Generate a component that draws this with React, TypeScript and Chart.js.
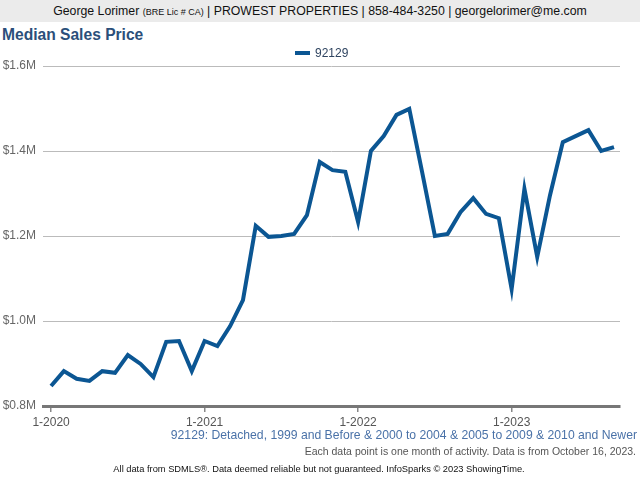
import React, { useEffect, useRef } from "react";
import { Chart, registerables } from "chart.js";

Chart.register(...registerables);

const months: string[] = [
  "1-2020","2-2020","3-2020","4-2020","5-2020","6-2020","7-2020","8-2020","9-2020","10-2020","11-2020","12-2020",
  "1-2021","2-2021","3-2021","4-2021","5-2021","6-2021","7-2021","8-2021","9-2021","10-2021","11-2021","12-2021",
  "1-2022","2-2022","3-2022","4-2022","5-2022","6-2022","7-2022","8-2022","9-2022","10-2022","11-2022","12-2022",
  "1-2023","2-2023","3-2023","4-2023","5-2023","6-2023","7-2023","8-2023","9-2023",
];

const medianPrice: number[] = [
  847000, 882000, 864000, 859000, 882000, 878000, 920000, 899000, 868000, 951000, 953000, 882000,
  953000, 941000, 988000, 1049000, 1224000, 1198000, 1200000, 1205000, 1249000, 1374000, 1355000, 1351000,
  1233000, 1400000, 1435000, 1485000, 1499000, 1351000, 1200000, 1205000, 1256000, 1289000, 1252000, 1242000,
  1075000, 1311000, 1151000, 1296000, 1421000, 1435000, 1449000, 1400000, 1409000,
];

const yTicks: number[] = [800000, 1000000, 1200000, 1400000, 1600000];
const seriesName = "92129";
const LINE = "#0b5693";
const FONT = "'Liberation Sans', Arial, sans-serif";

export default function App() {
  const ref = useRef<HTMLCanvasElement | null>(null);

  useEffect(() => {
    if (!ref.current) return;
    const chart = new Chart(ref.current, {
      type: "line",
      data: {
        datasets: [
          {
            label: seriesName,
            data: medianPrice.map((v, i) => ({ x: i, y: v })),
            borderColor: LINE,
            backgroundColor: LINE,
            borderWidth: 4,
            pointRadius: 0,
            tension: 0,
            borderJoinStyle: "miter",
          },
        ],
      },
      options: {
        animation: false,
        responsive: false,
        maintainAspectRatio: false,
        layout: { padding: { top: 66, right: 20, left: 0, bottom: 0 } },
        plugins: { legend: { display: false }, tooltip: { enabled: false }, title: { display: false } },
        scales: {
          x: {
            type: "linear",
            min: -0.63,
            max: 44.47,
            afterFit: (s: any) => { s.height = 74; },
            afterBuildTicks: (s: any) => {
              s.ticks = months.map((m, i) => ({ value: i, label: m })).filter((_, i) => i % 12 === 0);
            },
            ticks: {
              autoSkip: false,
              maxRotation: 0,
              padding: 3,
              color: "#555",
              font: { family: FONT, size: 12 },
              callback: (v: any) => months[Math.round(Number(v))] ?? "",
            },
            grid: { drawOnChartArea: false, drawTicks: true, tickLength: 6, color: "#888", lineWidth: 1.5 },
            border: { display: true, color: "#777", width: 3 },
          },
          y: {
            min: yTicks[0],
            max: yTicks[yTicks.length - 1],
            afterFit: (s: any) => { s.width = 43; },
            afterBuildTicks: (s: any) => { s.ticks = yTicks.map((v) => ({ value: v })); },
            ticks: {
              padding: 7,
              color: "#666",
              font: { family: FONT, size: 12 },
              callback: (v: any) => "$" + (Number(v) / 1000000).toFixed(1) + "M",
            },
            grid: { drawTicks: false, color: "#bbb", lineWidth: 1 },
            border: { display: false },
          },
        },
      },
    });
    return () => chart.destroy();
  }, []);

  return (
    <div style={{ position: "absolute", left: 0, top: 0, width: 640, height: 480, background: "#fff", fontFamily: FONT, overflow: "hidden" }}>
      <div style={{ position: "absolute", left: 0, top: 0, width: 640, height: 22, background: "#ebebeb" }} />
      <div style={{ position: "absolute", left: 0, top: 0, width: 640, height: 22, textAlign: "center", lineHeight: "22px", fontSize: 12.3, color: "#111", whiteSpace: "nowrap" }}>
        George Lorimer <span style={{ fontSize: 9 }}>(BRE Lic # CA)</span> | PROWEST PROPERTIES | 858-484-3250 | georgelorimer@me.com
      </div>
      <div style={{ position: "absolute", left: 2, top: 25, fontSize: 15.6, fontWeight: "bold", color: "#2b4f7a", lineHeight: "20px" }}>
        Median Sales Price
      </div>
      <canvas ref={ref} width={640} height={480} style={{ position: "absolute", left: 0, top: 0 }} />
      <div style={{ position: "absolute", left: 295, top: 51, width: 15, height: 4, background: LINE }} />
      <div style={{ position: "absolute", left: 315, top: 46, fontSize: 12, lineHeight: "14px", color: "#2f4460" }}>{seriesName}</div>
      <div style={{ position: "absolute", right: 3, top: 428, fontSize: 12.2, lineHeight: "15px", color: "#4a72a8", whiteSpace: "nowrap" }}>
        92129: Detached, 1999 and Before &amp; 2000 to 2004 &amp; 2005 to 2009 &amp; 2010 and Newer
      </div>
      <div style={{ position: "absolute", right: 4, top: 444, fontSize: 10.5, lineHeight: "14px", color: "#555", whiteSpace: "nowrap" }}>
        Each data point is one month of activity. Data is from October 16, 2023.
      </div>
      <div style={{ position: "absolute", left: -1, width: 640, top: 463, textAlign: "center", fontSize: 9.3, lineHeight: "12px", color: "#111", whiteSpace: "nowrap" }}>
        All data from SDMLS®. Data deemed reliable but not guaranteed. InfoSparks © 2023 ShowingTime.
      </div>
    </div>
  );
}
